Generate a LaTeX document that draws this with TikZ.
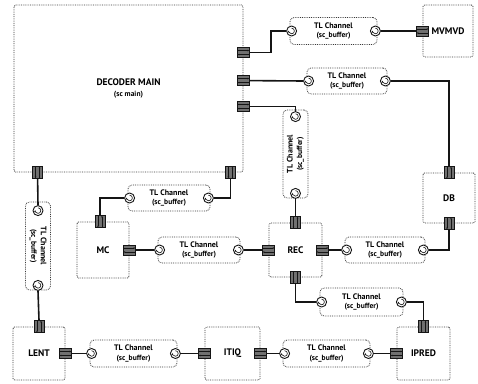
\documentclass[tikz,border=0pt]{standalone}
\usepackage{fontspec}
\setmainfont{PT Sans}
\usepackage{graphicx}
\usetikzlibrary{arrows.meta,positioning,calc}
\definecolor{ink}{HTML}{151515}
\definecolor{rim}{HTML}{3A3A3A}
\definecolor{hatch}{HTML}{707070}
\newcommand{\tlch}{TL Channel\\{\fontsize{7.5}{9}\selectfont(sc\_buffer)}}
\newcommand{\tlchv}{\begin{tabular}{@{}c@{}}TL Channel\\ \fontsize{7.5}{9}\selectfont(sc\_buffer)\end{tabular}}
\tikzset{comp/.style={draw=rim,densely dotted,line width=.8pt,rounded corners=1.5pt,align=center,font=\bfseries\fontsize{9.5}{10.5}\selectfont,inner sep=0pt},
chan/.style={draw=rim,densely dotted,line width=.8pt,rounded corners=4pt,align=center,font=\bfseries\fontsize{8}{9.5}\selectfont,inner sep=0pt},
sock/.style={circle,draw=ink,fill=white,line width=.9pt,minimum size=10pt,inner sep=0pt,path picture={\draw[ink,line width=.6pt,-{Stealth[length=2.2pt]}] ([yshift=2.8pt]path picture bounding box.center) arc[start angle=90,end angle=-190,radius=2.8pt];}},
porth/.style={draw=ink,fill=hatch,line width=.7pt,minimum width=12pt,minimum height=10pt,inner sep=0pt,path picture={\draw[ink,line width=.6pt,-{Stealth[length=2pt]}] ([yshift=2pt]path picture bounding box.west)--([yshift=2pt]path picture bounding box.east);\draw[ink,line width=.6pt,{Stealth[length=2pt]}-] ([yshift=-2pt]path picture bounding box.west)--([yshift=-2pt]path picture bounding box.east);}},
portv/.style={draw=ink,fill=hatch,line width=.7pt,minimum width=10pt,minimum height=12pt,inner sep=0pt,path picture={\draw[ink,line width=.6pt,-{Stealth[length=2pt]}] ([xshift=-2pt]path picture bounding box.north)--([xshift=-2pt]path picture bounding box.south);\draw[ink,line width=.6pt,{Stealth[length=2pt]}-] ([xshift=2pt]path picture bounding box.north)--([xshift=2pt]path picture bounding box.south);}},
wire/.style={draw=ink,line width=1.6pt}}

\begin{document}
\begin{tikzpicture}[x=1pt,y=-1pt]
\useasboundingbox (0,0) rectangle (478,383);
% modules
\node[comp,minimum width=229pt,minimum height=167pt] (main) at (128.5,88.5) {DECODER MAIN\\{\fontsize{7.5}{9}\selectfont(sc main)}};
\node[comp,minimum width=50pt,minimum height=52pt] (mvmvd) at (448,31) {MVMVD};
\node[comp,minimum width=52pt,minimum height=50pt] (db) at (449,198) {DB};
\node[comp,minimum width=53pt,minimum height=54pt] (rec) at (295.5,250) {REC};
\node[comp,minimum width=52pt,minimum height=56pt] (mc) at (103,250) {MC};
\node[comp,minimum width=52pt,minimum height=53pt] (lent) at (39,353.5) {LENT};
\node[comp,minimum width=55pt,minimum height=53pt] (itiq) at (232.5,353.5) {ITIQ};
\node[comp,minimum width=53pt,minimum height=53pt] (ipred) at (423.5,353.5) {IPRED};
% channels
\node[chan,minimum width=87pt,minimum height=27pt] (ch1) at (333.5,31) {\tlch};
\node[chan,minimum width=80pt,minimum height=26pt] (ch2) at (347,81) {\tlch};
\node[chan,minimum width=82pt,minimum height=26pt] (ch3) at (169,198) {\tlch};
\node[chan,minimum width=82pt,minimum height=26pt] (ch4) at (199,250) {\tlch};
\node[chan,minimum width=80pt,minimum height=26pt] (ch5) at (385,250) {\tlch};
\node[chan,minimum width=83pt,minimum height=28pt] (ch6) at (361.5,302) {\tlch};
\node[chan,minimum width=87pt,minimum height=27pt] (ch7) at (133.5,353.5) {\tlch};
\node[chan,minimum width=87pt,minimum height=27pt] (ch8) at (326.5,353.5) {\tlch};
\node[chan,minimum width=25pt,minimum height=88pt] (vch1) at (38,246) {\rotatebox{-90}{\tlchv}};
\node[chan,minimum width=25pt,minimum height=88pt] (vch2) at (295.5,154) {\rotatebox{90}{\tlchv}};
\foreach \c in {ch1,ch2,ch3,ch4,ch5,ch6,ch7,ch8}{
  \node[sock] (\c-l) at ([xshift=2pt]\c.west) {};
  \node[sock] (\c-r) at ([xshift=-2pt]\c.east) {};
}
\node[sock] (vch1-t) at ([yshift=-9pt]vch1.north) {};
\node[sock] (vch1-b) at ([yshift=5pt]vch1.south) {};
\node[sock] (vch2-t) at ([yshift=-7pt]vch2.north) {};
\node[sock] (vch2-b) at ([yshift=5pt]vch2.south) {};
% ports
\node[porth] (mainP1) at ([yshift=-48pt]main.north east) {};
\node[porth] (mainP2) at ([yshift=-76pt]main.north east) {};
\node[porth] (mainP3) at ([yshift=-102pt]main.north east) {};
\node[portv] (mainPL) at ([xshift=24pt]main.south west) {};
\node[portv] (mainPR) at ([xshift=-13pt]main.south east) {};
\node[porth] (mvmvdP) at (mvmvd.west) {};
\node[portv] (dbPT) at (db.north) {};
\node[portv] (dbPB) at (db.south) {};
\node[portv] (recPT) at (rec.north) {};
\node[porth] (recPL) at (rec.west) {};
\node[porth] (recPR) at (rec.east) {};
\node[portv] (recPB) at (rec.south) {};
\node[portv] (mcPT) at ([xshift=-3pt]mc.north) {};
\node[porth] (mcPR) at (mc.east) {};
\node[portv] (lentPT) at (lent.north) {};
\node[porth] (lentPR) at (lent.east) {};
\node[porth] (itiqPL) at (itiq.west) {};
\node[porth] (itiqPR) at (itiq.east) {};
\node[portv] (ipredPT) at (ipred.north) {};
\node[porth] (ipredPL) at (ipred.west) {};
% links
\draw[wire] (mainP1.east)--++(21,0)|-(ch1-l.west);
\draw[wire] (ch1-r.east)--(mvmvdP.west);
\draw[wire] (mainP2.east)--(ch2-l.west);
\draw[wire] (ch2-r.east)-|(dbPT.north);
\draw[wire] (mainP3.east)-|(vch2-t.north);
\draw[wire] (vch2-b.south)--(recPT.north);
\draw[wire] (mainPR.south)|-(ch3-r.east);
\draw[wire] (ch3-l.west)-|(mcPT.north);
\draw[wire] (mcPR.east)--(ch4-l.west);
\draw[wire] (ch4-r.east)--(recPL.west);
\draw[wire] (recPR.east)--(ch5-l.west);
\draw[wire] (ch5-r.east)-|(dbPB.south);
\draw[wire] (recPB.south)|-(ch6-l.west);
\draw[wire] (ch6-r.east)-|(ipredPT.north);
\draw[wire] (mainPL.south)--(vch1-t.north);
\draw[wire] (vch1-b.south)--(lentPT.north);
\draw[wire] (lentPR.east)--(ch7-l.west);
\draw[wire] (ch7-r.east)--(itiqPL.west);
\draw[wire] (itiqPR.east)--(ch8-l.west);
\draw[wire] (ch8-r.east)--(ipredPL.west);
\end{tikzpicture}
\end{document}
